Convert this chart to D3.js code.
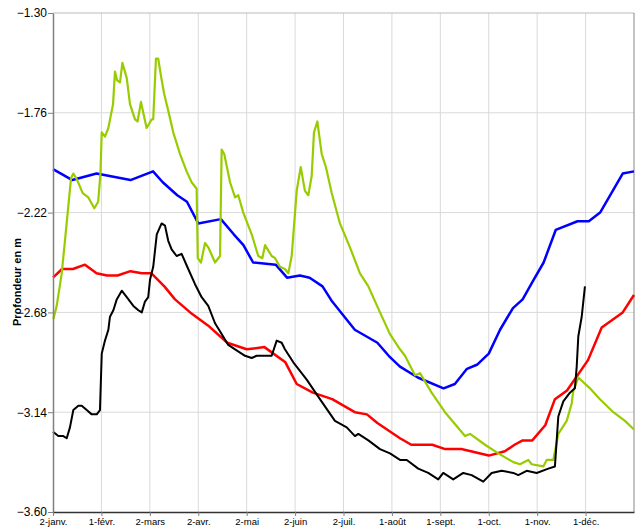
<!DOCTYPE html>
<html>
<head>
<meta charset="utf-8">
<script src="https://cdn.jsdelivr.net/npm/d3@7"></script>
<style>
  body { margin: 0; background: #fff; }
  svg { display: block; font-family: "Liberation Sans Narrow", "Arial Narrow", "Liberation Sans", Arial, sans-serif; }
</style>
</head>
<body>
<div class="chart"></div>
<script>
// day index (0 = 2 janv.) and depth in m
const monthLabels = ["2-janv.", "1-févr.", "2-mars", "2-avr.", "2-mai", "2-juin",
  "2-juil.", "1-août", "1-sept.", "1-oct.", "1-nov.", "1-déc."];
const monthDays = [0, 30, 60, 90, 120, 150, 180, 210, 240, 270, 300, 330];
const depthTicks = [-1.30, -1.76, -2.22, -2.68, -3.14, -3.60];

const blueSeries = [
  [0, -2.02], [12, -2.07], [27, -2.04], [48, -2.07], [62, -2.03], [68, -2.08],
  [77, -2.14], [83, -2.17], [90, -2.27], [104, -2.25], [112, -2.32], [118, -2.37],
  [124, -2.45], [138, -2.46], [145, -2.52], [153, -2.51], [159, -2.52], [167, -2.56],
  [173, -2.63], [187, -2.76], [201, -2.82], [208, -2.88], [215, -2.93], [226, -2.98],
  [242, -3.03], [249, -3.01], [256.5, -2.94], [263, -2.92], [270, -2.87], [277, -2.76],
  [285, -2.66], [291, -2.62], [297, -2.54], [304, -2.45], [311.5, -2.30], [325, -2.26],
  [332, -2.26], [339, -2.22], [353, -2.04], [360, -2.03]
];

const redSeries = [
  [0, -2.52], [5.6, -2.48], [12.4, -2.48], [19.8, -2.46], [27, -2.50], [33.5, -2.51],
  [40, -2.51], [48, -2.49], [55, -2.50], [61, -2.50], [69, -2.56], [75.6, -2.62],
  [85, -2.68], [96, -2.74], [108, -2.82], [120, -2.85], [131, -2.84], [144, -2.91],
  [151, -3.01], [161, -3.05], [173, -3.08], [187, -3.14], [194.5, -3.15], [201, -3.19],
  [215, -3.26], [222, -3.29], [235, -3.29], [243, -3.31], [253, -3.31], [270, -3.34],
  [280, -3.32], [286, -3.29], [291, -3.27], [297, -3.27], [305, -3.20], [311, -3.08],
  [318.5, -3.04], [331.5, -2.90], [340, -2.75], [353, -2.68], [360, -2.60]
];

const greenSeries = [
  [0.2, -2.71], [2.3, -2.65], [5.4, -2.50], [7.4, -2.35], [9.5, -2.19], [11.2, -2.06],
  [12.6, -2.04], [15, -2.07], [18.4, -2.13], [21.9, -2.15], [25.6, -2.20], [28, -2.17],
  [29.4, -2.04], [30.2, -1.85], [32.2, -1.87], [34.3, -1.83], [37.2, -1.72], [38.4, -1.57],
  [39.7, -1.61], [41.5, -1.62], [43, -1.53], [45.7, -1.60], [47.7, -1.72], [50.8, -1.79],
  [52.4, -1.80], [54.5, -1.71], [58, -1.83], [61.2, -1.79], [62.1, -1.79], [63.8, -1.51],
  [65.2, -1.51], [66.9, -1.59], [68.8, -1.67], [71.4, -1.75], [74.5, -1.85], [78.7, -1.95],
  [82.8, -2.03], [85.9, -2.08], [89, -2.11], [89.7, -2.43], [91.7, -2.45], [94.2, -2.36],
  [96.2, -2.38], [100.4, -2.45], [103.5, -2.42], [104.5, -1.93], [106.1, -1.95],
  [109.7, -2.08], [112.8, -2.15], [114.8, -2.14], [117.9, -2.22], [123.1, -2.32],
  [127.2, -2.42], [129.7, -2.43], [131.4, -2.37], [135.5, -2.42], [137.6, -2.43],
  [140.6, -2.47], [143.7, -2.48], [145.8, -2.50], [147.9, -2.42], [151, -2.12],
  [153.5, -2.01], [156.1, -2.12], [158.2, -2.14], [160.3, -2.05], [161.7, -1.85],
  [163.8, -1.80], [166.5, -1.95], [169.1, -2.01], [172.7, -2.13], [177.8, -2.27],
  [184, -2.38], [190.2, -2.50], [195.4, -2.56], [202.6, -2.68], [208.8, -2.78],
  [215, -2.85], [218.1, -2.88], [224.3, -2.97], [227.4, -2.96], [234.6, -3.05],
  [242.9, -3.14], [255.3, -3.25], [258.4, -3.24], [267.7, -3.29], [275.9, -3.33],
  [285.2, -3.37], [289.4, -3.38], [294.5, -3.36], [296.6, -3.38], [303.8, -3.39],
  [305.9, -3.36], [310, -3.36], [313.1, -3.24], [318.3, -3.18], [321.4, -3.10],
  [322.4, -3.04], [325.5, -2.98], [332.7, -3.03], [338.9, -3.08], [347.2, -3.14],
  [354.4, -3.18], [360, -3.22]
];

const blackSeries = [
  [0, -3.23], [3.3, -3.25], [6.4, -3.25], [8.5, -3.26], [10.5, -3.21], [12.6, -3.13],
  [15.7, -3.11], [17.8, -3.11], [20.9, -3.13], [24, -3.15], [27.1, -3.15], [29.1, -3.13],
  [30.2, -2.87], [32.2, -2.81], [34.3, -2.76], [35.3, -2.70], [37.4, -2.67], [39.5, -2.62],
  [42.6, -2.58], [45.7, -2.61], [49.8, -2.65], [52.9, -2.67], [55, -2.68], [57, -2.63],
  [59, -2.61], [60.1, -2.53], [62.1, -2.47], [64.3, -2.32], [67.3, -2.27], [69.4, -2.28],
  [71.4, -2.35], [73.5, -2.39], [76.6, -2.42], [79.7, -2.41], [83.8, -2.48], [88, -2.55],
  [92.1, -2.61], [96.2, -2.65], [100.4, -2.73], [104.5, -2.78], [108.6, -2.83],
  [112.8, -2.85], [119, -2.88], [123.1, -2.89], [126.2, -2.88], [131.4, -2.88],
  [135.5, -2.88], [138.6, -2.81], [141.7, -2.82], [143.7, -2.85], [148.9, -2.91],
  [157.2, -2.99], [165.4, -3.08], [174.7, -3.18], [182, -3.21], [187.1, -3.25],
  [189.2, -3.24], [195.4, -3.27], [202.6, -3.31], [208.8, -3.33], [215, -3.36],
  [219.2, -3.36], [226.3, -3.40], [232.5, -3.42], [238.7, -3.45], [241.8, -3.42],
  [248, -3.45], [254.2, -3.42], [259.4, -3.43], [266.6, -3.46], [271.8, -3.42],
  [278, -3.41], [285.2, -3.42], [288.3, -3.43], [293.5, -3.41], [299.7, -3.42],
  [306.9, -3.40], [311, -3.39], [313.1, -3.16], [316.2, -3.09], [320.3, -3.05],
  [323.4, -3.03], [324.5, -2.93], [325.5, -2.79], [327.6, -2.70], [329.6, -2.56]
];

const width = 644, height = 532;
const margin = { top: 13, right: 10, bottom: 20, left: 53 };

const svg = d3.select(".chart").append("svg")
  .attr("width", width)
  .attr("height", height);

const x = d3.scaleLinear().domain([0, 360]).range([margin.left, width - margin.right]);
const y = d3.scaleLinear().domain([-3.60, -1.30]).range([height - margin.bottom, margin.top]);

// grid
svg.append("g")
  .selectAll("line")
  .data(monthDays.slice(1))
  .enter()
  .append("line")
  .attr("x1", d => x(d)).attr("x2", d => x(d))
  .attr("y1", margin.top).attr("y2", height - margin.bottom)
  .attr("stroke", "#d9d9d9");

svg.append("g")
  .selectAll("line")
  .data(depthTicks.slice(1, -1))
  .enter()
  .append("line")
  .attr("x1", margin.left).attr("x2", width - margin.right)
  .attr("y1", d => y(d)).attr("y2", d => y(d))
  .attr("stroke", "#d9d9d9");

// frame top/right
svg.append("line")
  .attr("x1", margin.left).attr("x2", width - margin.right)
  .attr("y1", margin.top).attr("y2", margin.top)
  .attr("stroke", "#bbb");
svg.append("line")
  .attr("x1", width - margin.right).attr("x2", width - margin.right)
  .attr("y1", margin.top).attr("y2", height - margin.bottom)
  .attr("stroke", "#888");

// lines
const line = d3.line().x(d => x(d[0])).y(d => y(d[1]));
const series = [
  { data: blueSeries, color: "#0000ff", w: 2.5 },
  { data: redSeries, color: "#ff0000", w: 2.5 },
  { data: greenSeries, color: "#99cc00", w: 2.2 },
  { data: blackSeries, color: "#000000", w: 2 }
];
svg.append("g")
  .selectAll("path")
  .data(series)
  .enter()
  .append("path")
  .attr("d", d => line(d.data))
  .attr("fill", "none")
  .attr("stroke", d => d.color)
  .attr("stroke-width", d => d.w)
  .attr("stroke-linejoin", "round");

// axes
const yAxis = d3.axisLeft(y)
  .tickValues(depthTicks)
  .tickFormat(d3.format(".2f"))
  .tickSize(5)
  .tickSizeOuter(0);
const gy = svg.append("g")
  .attr("transform", "translate(" + margin.left + ",0)")
  .call(yAxis);
gy.select(".domain").attr("stroke", "#808080").attr("stroke-width", 1.5);
gy.selectAll(".tick line").attr("stroke", "#808080");
gy.selectAll(".tick text").attr("font-size", 12).attr("fill", "#000").attr("x", -6);

const xAxis = d3.axisBottom(x)
  .tickValues(monthDays)
  .tickFormat((d, i) => monthLabels[i])
  .tickSize(4)
  .tickSizeOuter(0);
const gx = svg.append("g")
  .attr("transform", "translate(0," + (height - margin.bottom) + ")")
  .call(xAxis);
gx.select(".domain").attr("stroke", "#333").attr("stroke-width", 1.5);
gx.selectAll(".tick line").attr("stroke", "#808080");
gx.selectAll(".tick text").attr("font-size", 9.5).attr("fill", "#000").attr("y", 6);

svg.append("text")
  .attr("transform", "translate(21," + (margin.top + 269) + ") rotate(-90)")
  .attr("text-anchor", "middle")
  .attr("font-family", "Liberation Sans, Arial, sans-serif")
  .attr("font-weight", "bold")
  .attr("font-size", 11)
  .text("Profondeur en m");
</script>
</body>
</html>
